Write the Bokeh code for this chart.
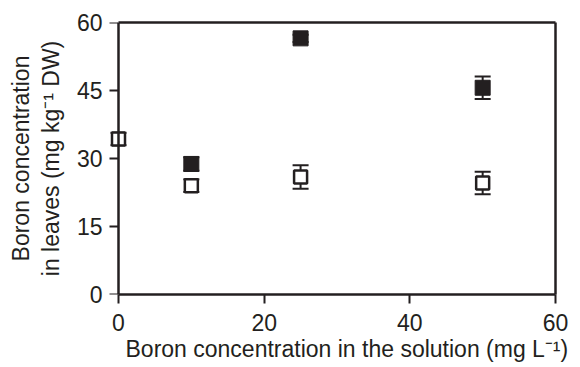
from bokeh.plotting import figure
from bokeh.models import (Range1d, FixedTicker, Whisker, ColumnDataSource, LinearAxis,
                          CustomJSTickFormatter, Title)
from bokeh.embed import file_html
from bokeh.resources import INLINE

# Data
x_open = [0, 10, 25, 50]
y_open = [34.3, 24.0, 25.9, 24.6]
err_open = [1.4, 1.4, 2.6, 2.5]

x_filled = [10, 25, 50]
y_filled = [28.8, 56.5, 45.6]
err_filled = [1.5, 0.8, 2.5]

x_ticks = [0, 20, 40, 60]
y_ticks = [0, 15, 30, 45, 60]

x_title = "Boron concentration in the solution (mg L\u207b\u00b9)"
y_title = "Boron concentration\nin leaves (mg kg\u207b\u00b9 DW)"

INK = "#231f20"
FONT = "Liberation Sans"
FS = "23px"

p = figure(width=580, height=367, output_backend="svg", toolbar_location=None,
           x_range=Range1d(-2.06, 60), y_range=Range1d(0, 60),
           min_border_left=103, min_border_right=25, min_border_top=22, min_border_bottom=73)
p.background_fill_color = "white"
p.border_fill_color = "white"
p.xgrid.visible = False
p.ygrid.visible = False
p.outline_line_color = None

for ax, ticks in ((p.xaxis, x_ticks), (p.yaxis, y_ticks)):
    ax.ticker = FixedTicker(ticks=ticks)
    ax.bounds = (0, 60)
    ax.axis_line_color = INK
    ax.axis_line_width = 2.5
    ax.major_tick_line_color = INK
    ax.major_tick_line_width = 2
    ax.major_tick_out = 9
    ax.major_tick_in = 0
    ax.minor_tick_line_color = None
    ax.major_label_text_font = FONT
    ax.major_label_text_font_size = FS
    ax.major_label_text_color = INK
    ax.axis_label_text_font = FONT
    ax.axis_label_text_font_size = FS
    ax.axis_label_text_font_style = "normal"
    ax.axis_label_text_color = INK
p.xaxis.major_label_standoff = 10

# left axis: labels and title at the frame edge; line and ticks come from a second axis at x = 0
p.yaxis.axis_line_color = None
p.yaxis.major_tick_line_color = None
p.yaxis.major_tick_out = 0
p.yaxis.major_label_standoff = 1
p.yaxis.axis_label = y_title
p.yaxis.axis_label_standoff = 10
p.yaxis.axis_label_text_line_height = 1.15

blank = CustomJSTickFormatter(code="return ''")
yline = LinearAxis(ticker=FixedTicker(ticks=y_ticks), bounds=(0, 60), fixed_location=0,
                   formatter=blank,
                   axis_line_color=INK, axis_line_width=2.5,
                   major_tick_line_color=INK, major_tick_line_width=2,
                   major_tick_out=9, major_tick_in=0, minor_tick_line_color=None)
p.add_layout(yline, "left")

# x title as a bottom title, shifted to where the reference has it
p.add_layout(Title(text=x_title, align="left", offset=22, standoff=0,
                   text_font=FONT, text_font_size=FS, text_font_style="normal",
                   text_color=INK), "below")

# top and right frame lines
for side in ("above", "right"):
    a = LinearAxis(ticker=FixedTicker(ticks=[]), bounds=(0, 60),
                   axis_line_color=INK, axis_line_width=2.5,
                   major_tick_line_color=None, minor_tick_line_color=None)
    p.add_layout(a, side)

src_open = ColumnDataSource(dict(x=x_open, y=y_open,
                                 lo=[a - b for a, b in zip(y_open, err_open)],
                                 hi=[a + b for a, b in zip(y_open, err_open)]))
src_filled = ColumnDataSource(dict(x=x_filled, y=y_filled,
                                   lo=[a - b for a, b in zip(y_filled, err_filled)],
                                   hi=[a + b for a, b in zip(y_filled, err_filled)]))

for src in (src_open, src_filled):
    w = Whisker(source=src, base="x", lower="lo", upper="hi", dimension="height",
                line_color=INK, line_width=2)
    for h in (w.upper_head, w.lower_head):
        h.size = 16
        h.line_color = INK
        h.line_width = 2
    p.add_layout(w)

p.scatter("x", "y", source=src_open, marker="square", size=13, fill_color="white",
          line_color=INK, line_width=2.5)
p.scatter("x", "y", source=src_filled, marker="square", size=15, fill_color=INK,
          line_color=INK, line_width=1)

open("out.html", "w").write(file_html(p, INLINE))
